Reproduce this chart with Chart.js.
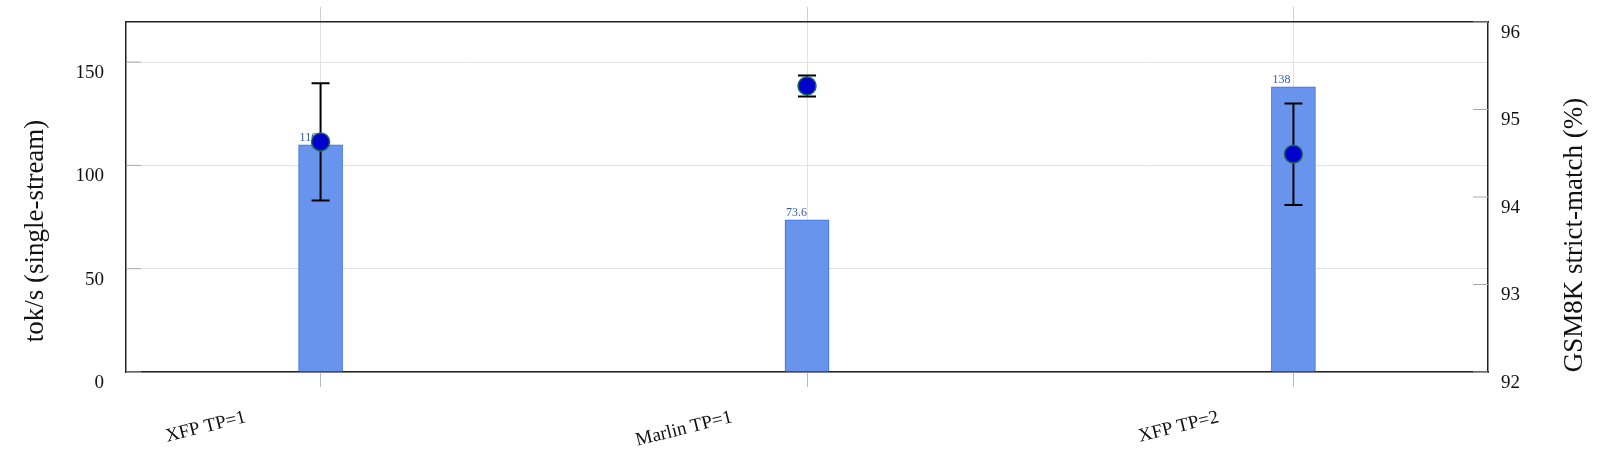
<!DOCTYPE html>
<html>
<head>
<meta charset="utf-8">
<script src="https://cdn.jsdelivr.net/npm/chart.js@4.4.1/dist/chart.umd.min.js"></script>
<style>
  body { margin: 0; background: #fff; }
  #wrap { width: 1600px; height: 449px; }
</style>
</head>
<body>
<div id="wrap"><canvas id="chart"></canvas></div>
<script>
// data
const categories = ['XFP TP=1', 'Marlin TP=1', 'XFP TP=2'];
const throughput = [110, 73.6, 138];        // tok/s, bars (left axis)
const gsm8k = [94.63, 95.27, 94.49];        // GSM8K %, dots (right axis)
const gsm8kErr = [0.67, 0.12, 0.58];        // +/- error
const leftTicks = [0, 50, 100, 150];
const rightTicks = [92, 93, 94, 95, 96];

const serif = "'Liberation Serif', 'DejaVu Serif', serif";

// bar value labels, drawn right after the bars
const barLabels = {
    id: 'barLabels',
    afterDatasetDraw(chart, args) {
        if (args.index !== 0) return;
        const ctx = chart.ctx;
        ctx.save();
        ctx.font = "12px " + serif;
        ctx.fillStyle = '#3558a8';
        ctx.textAlign = 'left';
        ctx.textBaseline = 'bottom';
        args.meta.data.forEach((bar, i) => {
            ctx.fillText(String(throughput[i]), bar.x - bar.width / 2 + 1, bar.y - 1);
        });
        ctx.restore();
    }
};

// error bars under the dots
const errorBars = {
    id: 'errorBars',
    beforeDatasetDraw(chart, args) {
        if (args.index !== 1) return;
        const ctx = chart.ctx;
        const x = chart.scales.x, y2 = chart.scales.y2;
        ctx.save();
        ctx.strokeStyle = '#000';
        ctx.lineWidth = 2;
        gsm8k.forEach((v, i) => {
            const px = x.getPixelForValue(i);
            const top = y2.getPixelForValue(v + gsm8kErr[i]);
            const bot = y2.getPixelForValue(v - gsm8kErr[i]);
            ctx.beginPath();
            ctx.moveTo(px, top); ctx.lineTo(px, bot);
            ctx.moveTo(px - 9, top); ctx.lineTo(px + 9, top);
            ctx.moveTo(px - 9, bot); ctx.lineTo(px + 9, bot);
            ctx.stroke();
        });
        ctx.restore();
    }
};

// short inward tick marks on both y axes + axis titles
const axisDecor = {
    id: 'axisDecor',
    beforeDatasetsDraw(chart) {
        const ctx = chart.ctx;
        const a = chart.chartArea;
        ctx.save();
        ctx.lineWidth = 1;
        ctx.strokeStyle = '#aaa';
        leftTicks.forEach(v => {
            const py = chart.scales.y.getPixelForValue(v);
            ctx.beginPath(); ctx.moveTo(a.left, py); ctx.lineTo(a.left + 15, py); ctx.stroke();
        });
        rightTicks.forEach(v => {
            const py = chart.scales.y2.getPixelForValue(v);
            ctx.beginPath(); ctx.moveTo(a.right - 15, py); ctx.lineTo(a.right, py); ctx.stroke();
        });
        ctx.restore();
    },
    afterDraw(chart) {
        const ctx = chart.ctx;
        const a = chart.chartArea;
        const midY = (a.top + a.bottom) / 2;
        ctx.save();
        ctx.font = "27px " + serif;
        ctx.fillStyle = '#111';
        ctx.textAlign = 'center';
        ctx.textBaseline = 'middle';
        ctx.translate(36, midY + 34);
        ctx.rotate(-Math.PI / 2);
        ctx.fillText('tok/s (single-stream)', 0, 0);
        ctx.restore();
        ctx.save();
        ctx.font = "27px " + serif;
        ctx.fillStyle = '#111';
        ctx.textAlign = 'center';
        ctx.textBaseline = 'middle';
        ctx.translate(1575, midY + 38);
        ctx.rotate(-Math.PI / 2);
        ctx.fillText('GSM8K strict-match (%)', 0, 0);
        ctx.restore();
    }
};

// fixed axis sizes so the plot box lands where the original one is
function fixWidth(w) {
    return s => { s.width = w; s.paddingTop = 0; s.paddingBottom = 0; };
}
function fixHeight(h) {
    return s => { s.height = h; s.paddingLeft = 0; s.paddingRight = 0; };
}

const ctx = document.getElementById('chart').getContext('2d');
const chart = new Chart(ctx, {
    type: 'bar',
    data: {
        datasets: [
            {
                label: 'tok/s',
                data: throughput.map((v, i) => ({ x: i, y: v })),
                backgroundColor: '#6894ee',
                borderColor: '#3b6fe6',
                borderWidth: 1,
                barThickness: 44,
                yAxisID: 'y',
                xAxisID: 'x',
                order: 2
            },
            {
                type: 'line',
                label: 'GSM8K',
                data: gsm8k.map((v, i) => ({ x: i, y: v })),
                showLine: false,
                pointRadius: 9,
                pointBackgroundColor: '#0000cc',
                pointBorderColor: '#1d6b5c',
                pointBorderWidth: 1.5,
                yAxisID: 'y2',
                xAxisID: 'x',
                order: 1
            }
        ]
    },
    options: {
        responsive: true,
        maintainAspectRatio: false,
        animation: false,
        layout: { padding: { left: 4, right: 4, top: 7, bottom: 0 } },
        plugins: {
            legend: { display: false },
            tooltip: { enabled: false }
        },
        scales: {
            x: {
                type: 'linear',
                position: 'bottom',
                min: -0.4,
                max: 2.4,
                offset: false,
                afterBuildTicks: s => { s.ticks = categories.map((c, i) => ({ value: i })); },
                afterFit: fixHeight(77),
                ticks: {
                    autoSkip: false,
                    minRotation: 14,
                    maxRotation: 14,
                    padding: 19,
                    labelOffset: -75,
                    color: '#111',
                    font: { family: serif, size: 19 },
                    callback: v => categories[v]
                },
                grid: { color: '#e2e2e2', tickColor: '#b8b8b8', tickLength: 15, offset: false },
                border: { color: '#222', width: 1.5 }
            },
            x2: {
                type: 'linear',
                position: 'top',
                min: -0.4,
                max: 2.4,
                offset: false,
                afterBuildTicks: s => { s.ticks = categories.map((c, i) => ({ value: i })); },
                afterFit: fixHeight(15),
                ticks: { display: false },
                grid: { drawOnChartArea: false, tickColor: '#d0d0d0', tickLength: 15, offset: false },
                border: { color: '#222', width: 1.5 }
            },
            y: {
                position: 'left',
                min: 0,
                max: 169.4,
                afterBuildTicks: s => { s.ticks = leftTicks.map(v => ({ value: v })); },
                afterFit: fixWidth(122),
                ticks: {
                    padding: 22,
                    labelOffset: 11,
                    color: '#111',
                    font: { family: serif, size: 19 }
                },
                grid: { color: '#e2e2e2', drawTicks: false },
                border: { color: '#222', width: 1.5 }
            },
            y2: {
                position: 'right',
                min: 92,
                max: 96,
                afterBuildTicks: s => { s.ticks = rightTicks.map(v => ({ value: v })); },
                afterFit: fixWidth(108),
                ticks: {
                    padding: 13,
                    labelOffset: 11,
                    color: '#111',
                    font: { family: serif, size: 19 }
                },
                grid: { drawOnChartArea: false, drawTicks: false },
                border: { color: '#222', width: 1.5 }
            }
        }
    },
    plugins: [barLabels, errorBars, axisDecor]
});
</script>
</body>
</html>
